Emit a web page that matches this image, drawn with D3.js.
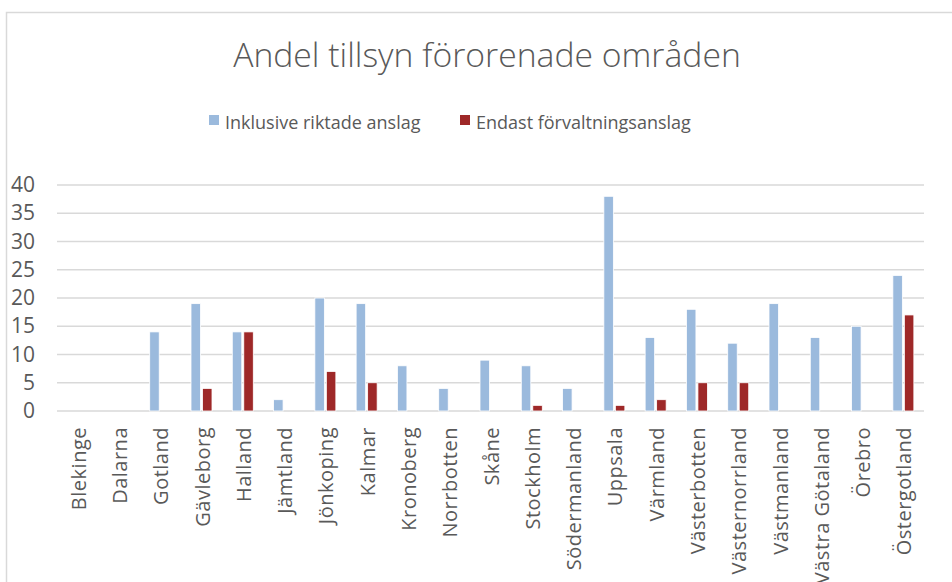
<!DOCTYPE html>
<html>
<head>
<meta charset="utf-8">
<script src="https://cdn.jsdelivr.net/npm/d3@7"></script>
<style>
  body { margin: 0; background: #fff; }
  text { font-family: "Open Sans", "DejaVu Sans", sans-serif; fill: #595959; }
</style>
</head>
<body>
<div id="chart"></div>
<script>
const categories = ["Blekinge", "Dalarna", "Gotland", "Gävleborg", "Halland", "Jämtland",
  "Jönkoping", "Kalmar", "Kronoberg", "Norrbotten", "Skåne", "Stockholm", "Södermanland",
  "Uppsala", "Värmland", "Västerbotten", "Västernorrland", "Västmanland", "Västra Götaland",
  "Örebro", "Östergotland"];
const inklusive = [0, 0, 14, 19, 14, 2, 20, 19, 8, 4, 9, 8, 4, 38, 13, 18, 12, 19, 13, 15, 24];
const endast = [0, 0, 0, 4, 14, 0, 7, 5, 0, 0, 0, 1, 0, 1, 2, 5, 5, 0, 0, 0, 17];
const seriesNames = ["Inklusive riktade anslag", "Endast förvaltningsanslag"];
const seriesColors = ["#9bbadd", "#9e2828"];
const yTicks = [0, 5, 10, 15, 20, 25, 30, 35, 40];

const W = 952, H = 582;
const margin = { left: 57, right: 28, top: 185, bottom: 171 };

var svg = d3.select("#chart").append("svg")
  .attr("width", W)
  .attr("height", H);

// chart border (runs off the right and bottom edge)
svg.append("rect")
  .attr("x", 6.5).attr("y", 12.5)
  .attr("width", W + 20).attr("height", H + 20)
  .attr("fill", "none")
  .attr("stroke", "#d9d9d9")
  .attr("stroke-width", 1.5);

var x = d3.scaleBand()
  .domain(categories)
  .range([margin.left, W - margin.right]);
var y = d3.scaleLinear()
  .domain([0, 40])
  .range([H - margin.bottom, margin.top]);

// gridlines
svg.append("g")
  .selectAll("line")
  .data(yTicks)
  .join("line")
  .attr("x1", margin.left).attr("x2", W - margin.right)
  .attr("y1", d => y(d)).attr("y2", d => y(d))
  .attr("stroke", "#d9d9d9")
  .attr("stroke-width", 1.5);

// y axis labels
var yAxis = svg.append("g")
  .attr("transform", "translate(" + margin.left + ",0)")
  .call(d3.axisLeft(y).tickValues(yTicks).tickSize(0).tickPadding(22));
yAxis.select(".domain").remove();
yAxis.selectAll("text")
  .style("font-size", "21px")
  .style("font-family", "'Open Sans', sans-serif")
  .attr("fill", "#595959");

// bars
var barW = 9.5, gap = 2;
var series = [inklusive, endast];
series.forEach(function(vals, si) {
  svg.append("g")
    .selectAll("rect")
    .data(categories.map((c, i) => ({ c: c, v: vals[i] })).filter(d => d.v > 0))
    .join("rect")
    .attr("x", d => x(d.c) + x.bandwidth() / 2 - barW - gap / 2 + si * (barW + gap))
    .attr("y", d => y(d.v))
    .attr("width", barW)
    .attr("height", d => y(0) - y(d.v))
    .attr("fill", seriesColors[si])
    .attr("stroke", "#fff")
    .attr("stroke-width", 0.8);
});

// x labels, rotated
svg.append("g")
  .selectAll("text")
  .data(categories)
  .join("text")
  .attr("transform", d => "translate(" + (x(d) + x.bandwidth() / 2 + 8) + "," + (y(0) + 16) + ") rotate(-90)")
  .attr("text-anchor", "end")
  .style("font-size", "20px")
  .style("letter-spacing", "0.5px")
  .text(d => d);

// title, fitted to the width it has in the picture
var title = svg.append("text")
  .attr("x", 487).attr("y", 67)
  .attr("text-anchor", "middle")
  .style("font-size", "29px")
  .style("font-weight", 300)
  .text("Andel tillsyn förorenade områden");
var tw = title.node().getComputedTextLength();
title.style("font-size", (29 * 508 / tw) + "px");

// legend
var legendX = [209, 460];
seriesNames.forEach(function(name, i) {
  var g = svg.append("g").attr("transform", "translate(" + legendX[i] + ",0)");
  g.append("rect")
    .attr("x", 0).attr("y", 115)
    .attr("width", 10).attr("height", 10)
    .attr("fill", seriesColors[i]);
  g.append("text")
    .attr("x", 16).attr("y", 129)
    .style("font-size", "18px")
    .text(name);
});
</script>
</body>
</html>
